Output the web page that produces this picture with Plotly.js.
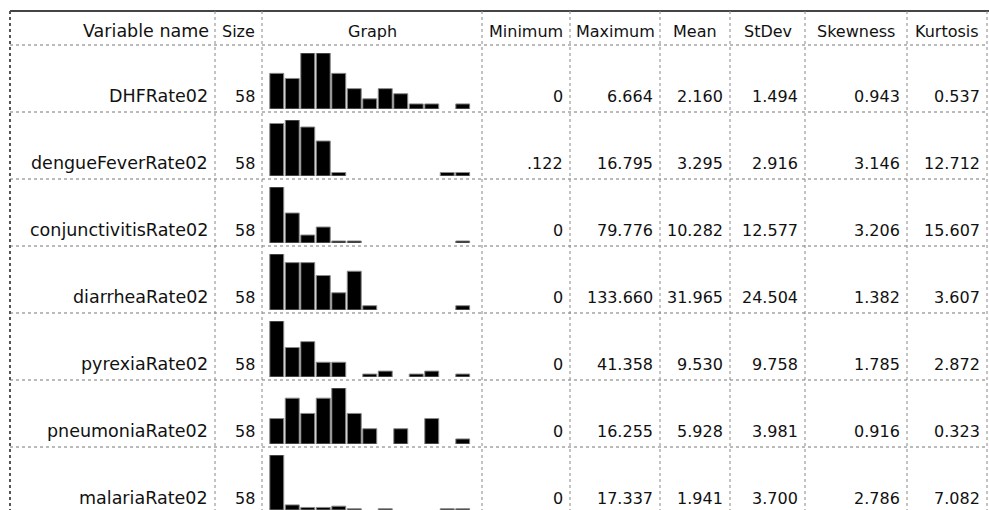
<!DOCTYPE html>
<html>
<head>
<meta charset="utf-8">
<script src="https://cdn.plot.ly/plotly-3.0.1.min.js"></script>
<style>
html,body{margin:0;padding:0;background:#fff;}
#chart{width:989px;height:510px;}
</style>
</head>
<body>
<div id="chart"></div>
<script>
// ---- data ----
const headers = ["Variable name","Size","Graph","Minimum","Maximum","Mean","StDev","Skewness","Kurtosis"];
const variableNames = ["DHFRate02","dengueFeverRate02","conjunctivitisRate02","diarrheaRate02","pyrexiaRate02","pneumoniaRate02","malariaRate02"];
const sizes = [58,58,58,58,58,58,58];
const minimums = [0,0.122,0,0,0,0,0];
const maximums = [6.664,16.795,79.776,133.660,41.358,16.255,17.337];
const means = [2.160,3.295,10.282,31.965,9.530,5.928,1.941];
const stdevs = [1.494,2.916,12.577,24.504,9.758,3.981,3.700];
const skewness = [0.943,3.146,3.206,1.382,1.785,0.916,2.786];
const kurtosis = [0.537,12.712,15.607,3.607,2.872,0.323,7.082];
const bins = [1,2,3,4,5,6,7,8,9,10,11,12,13];
const histDHF = [7,6,11,11,7,4,2,4,3,1,1,0,1];
const histDengue = [15,16,14,10,1,0,0,0,0,0,0,1,1];
const histConj = [28,15,4,8,1,1,0,0,0,0,0,0,1];
const histDiarrhea = [13,11,11,8,4,9,1,0,0,0,0,0,1];
const histPyrexia = [19,10,12,5,5,0,1,2,0,1,2,0,1];
const histPneumonia = [5,9,6,9,11,6,3,0,3,0,5,0,1];
const histMalaria = [43,4,2,2,3,1,0,1,0,0,0,1,1];
const histograms = [histDHF,histDengue,histConj,histDiarrhea,histPyrexia,histPneumonia,histMalaria];

// ---- layout geometry (pixels) ----
const W = 989, H = 510;
const colEdges = [10,215,262,482,570,660,730,805,907,987];
const tableTop = 11, headerBottom = 45, rowH = 67;
const graphLeft = 269, graphRight = 470.5;
const px = x => x / W;
const py = y => 1 - y / H;
const FONT = {family: "DejaVu Sans, Verdana, sans-serif", size: 16, color: "#111"};
const NAME_FONT = {family: "DejaVu Sans, Verdana, sans-serif", size: 17.5, color: "#111"};

function fmtMin(v){ if (v === 0) return "0"; return v.toFixed(3).replace(/^0\./, "."); }
function fmt(v){ return v.toFixed(3); }

const traces = [];
const layout = {
  width: W, height: H,
  margin: {l:0, r:0, t:0, b:0},
  paper_bgcolor: "#fff", plot_bgcolor: "rgba(0,0,0,0)",
  showlegend: false,
  bargap: 0.1,
  shapes: [], annotations: []
};

histograms.forEach((h, i) => {
  const xa = i === 0 ? "x" : "x" + (i+1);
  const ya = i === 0 ? "y" : "y" + (i+1);
  traces.push({
    type: "bar", x: bins, y: h.map(v => v === 0 ? null : v), xaxis: xa, yaxis: ya,
    marker: {color: "#000", line: {color: "#888", width: 1}},
    hoverinfo: "skip"
  });
  const rTop = headerBottom + i * rowH;
  const rBot = rTop + rowH;
  const xKey = i === 0 ? "xaxis" : "xaxis" + (i+1);
  const yKey = i === 0 ? "yaxis" : "yaxis" + (i+1);
  layout[xKey] = {domain: [px(graphLeft), px(graphRight)], range: [0.5, 13.5], anchor: ya,
    showgrid:false, zeroline:false, showticklabels:false, ticks:"", showline:false, fixedrange:true};
  layout[yKey] = {domain: [py(rBot - 3), py(rTop + 8)], range: [0, Math.max(...h)], anchor: xa,
    showgrid:false, zeroline:false, showticklabels:false, ticks:"", showline:false, fixedrange:true};
});

// grid lines
const nRows = variableNames.length;
const tableBottom = headerBottom + nRows * rowH;
layout.shapes.push({type:"line", xref:"paper", yref:"paper", x0:px(colEdges[0]), x1:px(colEdges[colEdges.length-1]+2), y0:py(tableTop), y1:py(tableTop), line:{color:"#444", width:2}});
for (let r = 0; r <= nRows; r++) {
  const y = headerBottom + r * rowH;
  layout.shapes.push({type:"line", xref:"paper", yref:"paper", x0:px(colEdges[0]), x1:px(colEdges[colEdges.length-1]), y0:py(y), y1:py(y), line:{color:"#777", width:1, dash:"dot"}});
}
colEdges.forEach((x, k) => {
  layout.shapes.push({type:"line", xref:"paper", yref:"paper", x0:px(x), x1:px(x), y0:py(tableTop), y1:py(tableBottom), line:{color: k===0 ? "#555" : "#888", width: k===0 ? 2 : 1, dash:"dot"}});
});

// header texts
headers.forEach((t, k) => {
  const left = colEdges[k], right = colEdges[k+1];
  const isName = k === 0;
  layout.annotations.push({text: t, xref:"paper", yref:"paper",
    x: isName ? px(right - 4) : px((left + right) / 2), xanchor: isName ? "right" : "center",
    y: py((tableTop + headerBottom) / 2 + 3), yanchor: "middle", showarrow: false, font: isName ? NAME_FONT : FONT});
});

// row texts
for (let i = 0; i < nRows; i++) {
  const rBot = headerBottom + (i + 1) * rowH;
  const cells = [variableNames[i], String(sizes[i]), null, fmtMin(minimums[i]), fmt(maximums[i]), fmt(means[i]), fmt(stdevs[i]), fmt(skewness[i]), fmt(kurtosis[i])];
  cells.forEach((t, k) => {
    if (t === null) return;
    layout.annotations.push({text: t, xref:"paper", yref:"paper",
      x: px(colEdges[k+1] - 5), xanchor: "right",
      y: py(rBot - 4), yanchor: "bottom", showarrow: false, font: k === 0 ? NAME_FONT : FONT});
  });
}

Plotly.newPlot("chart", traces, layout, {staticPlot: true, displayModeBar: false});
</script>
</body>
</html>
